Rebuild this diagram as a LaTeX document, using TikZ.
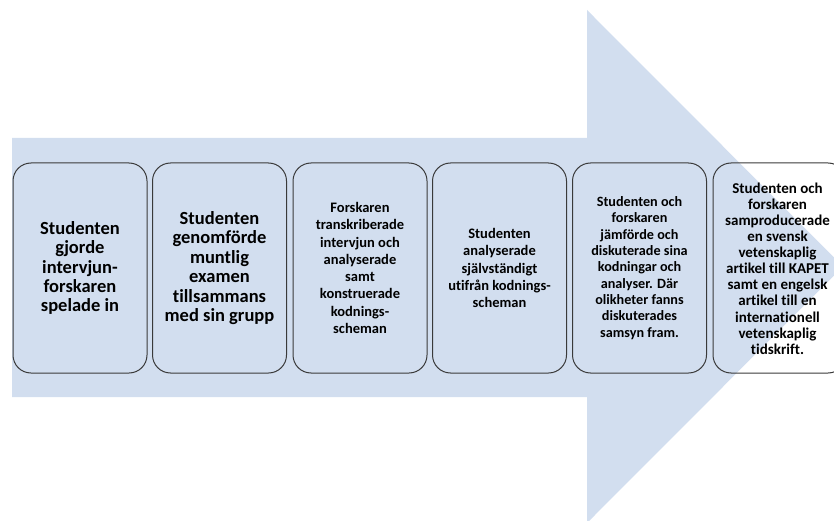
\documentclass[tikz,border=0pt]{standalone}
\usepackage{fontspec}
\setmainfont[Ligatures=NoCommon]{Carlito}
\definecolor{arrowblue}{HTML}{D2DEEF}
\definecolor{boxline}{HTML}{3A3A3A}
\tikzset{
  stepbox/.style={draw=boxline, line width=1pt, rounded corners=18pt,
    minimum width=134pt, minimum height=210pt, inner sep=0pt,
    align=center, text=black, font=\bfseries},
  bigtext/.style={font=\bfseries\fontsize{18.5}{19.4}\selectfont},
  midtext/.style={font=\bfseries\fontsize{14.5}{17.3}\selectfont},
  smalltext/.style={font=\bfseries\fontsize{14.2}{16.3}\selectfont},
  tinytext/.style={font=\bfseries\fontsize{15}{16.1}\selectfont}
}
\begin{document}
\begin{tikzpicture}[x=1pt,y=-1pt]
\useasboundingbox (0,0) rectangle (834,521);
\clip (0,0) rectangle (834,521);
\fill[arrowblue] (12,138) -- (587,138) -- (587,10) -- (843,266.5) -- (587,523) -- (587,397) -- (12,397) -- cycle;
\node[stepbox, bigtext] (b1) at (80,268) {Studenten\\gjorde\\intervjun-\\forskaren\\spelade in};
\node[stepbox, bigtext] (b2) at (219.5,268) {Studenten\\genomförde\\muntlig\\examen\\tillsammans\\med sin grupp};
\node[stepbox, midtext] (b3) at (360,268) {Forskaren\\transkriberade\\intervjun och\\analyserade\\samt\\konstruerade\\kodnings-\\scheman};
\node[stepbox, midtext] (b4) at (499.5,268) {Studenten\\analyserade\\självständigt\\utifrån kodnings-\\scheman};
\node[stepbox, smalltext] (b5) at (639.5,268) {Studenten och\\forskaren\\jämförde och\\diskuterade sina\\kodningar och\\analyser. Där\\olikheter fanns\\diskuterades\\samsyn fram.};
\node[stepbox, minimum width=133pt] (b6) at (779.5,268) {};
\node[tinytext, align=center, inner sep=0pt] (t6) at (777.5,268.5) {Studenten och\\forskaren\\samproducerade\\en svensk\\vetenskaplig\\artikel till KAPET\\samt en engelsk\\artikel till en\\internationell\\vetenskaplig\\tidskrift.};
\end{tikzpicture}
\end{document}
